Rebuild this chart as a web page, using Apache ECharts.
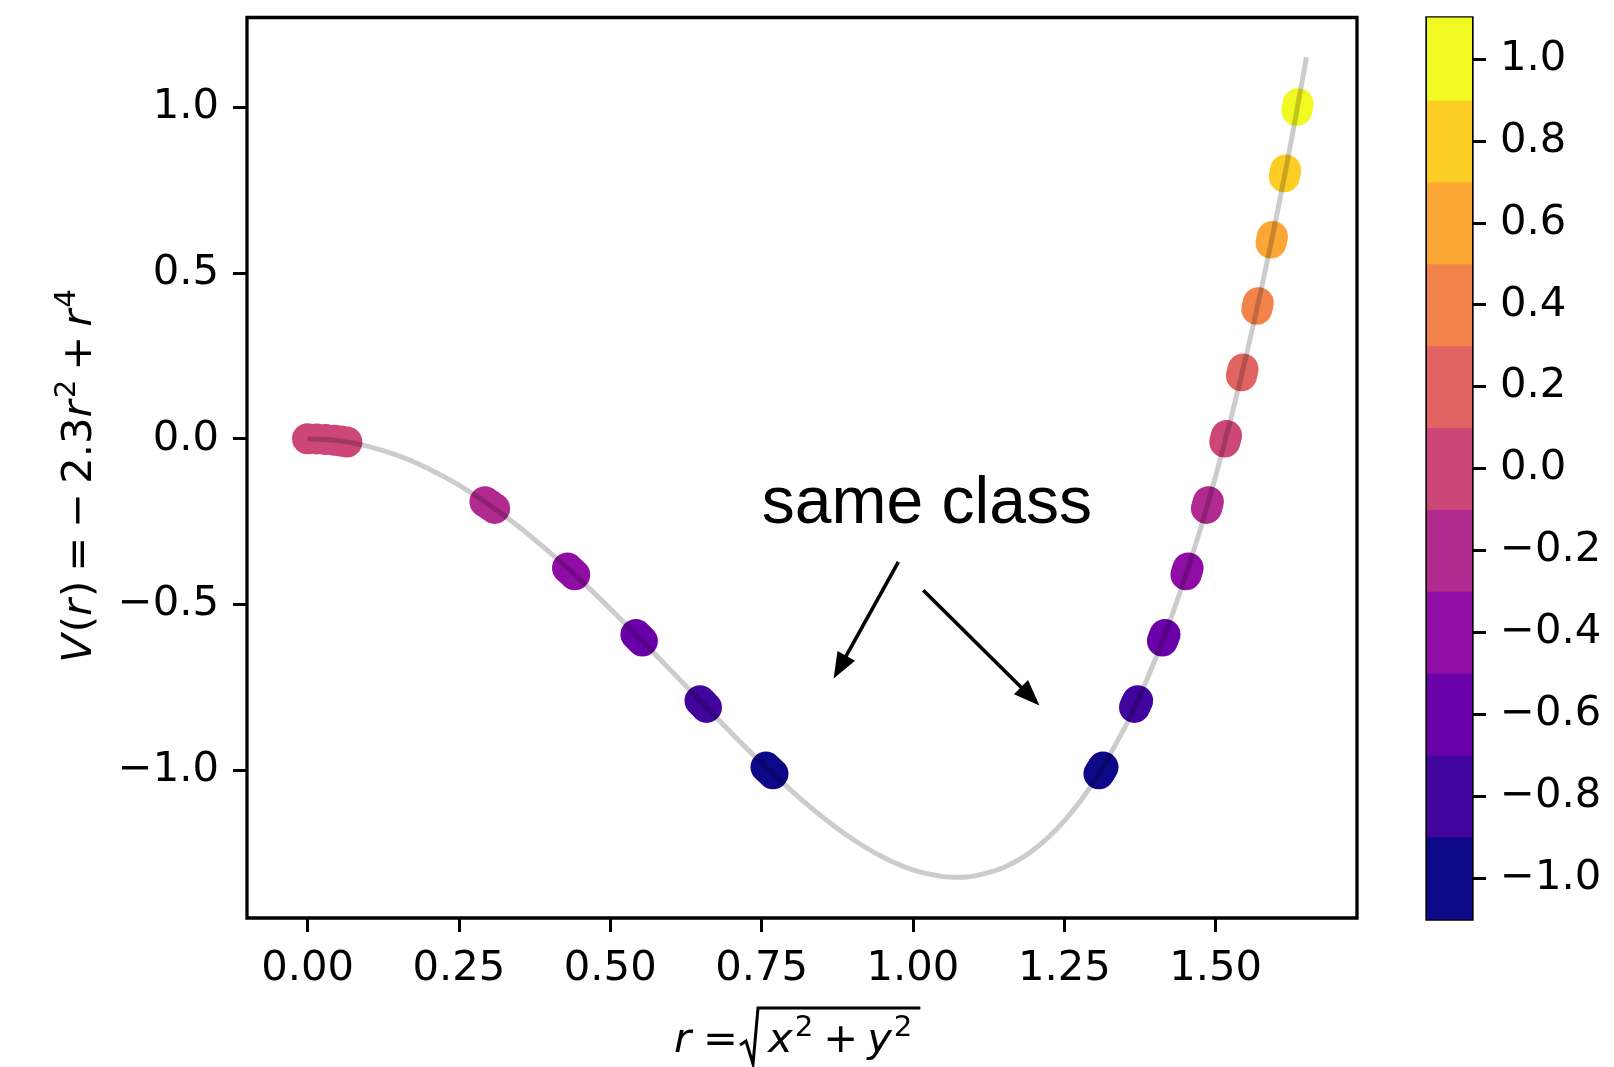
<!DOCTYPE html>
<html>
<head>
<meta charset="utf-8">
<script src="https://cdn.jsdelivr.net/npm/echarts@6/dist/echarts.min.js"></script>
<style>
  html, body { margin: 0; padding: 0; background: #ffffff; }
  #main { width: 1614px; height: 1067px; }
</style>
</head>
<body>
<div id="main"></div>
<script>
// Potential curve V(r) = -2.3 r^2 + r^4, sampled along r
const curveR = [0, 0.05, 0.10, 0.15, 0.20, 0.25, 0.30, 0.35, 0.40, 0.45, 0.50, 0.55, 0.60, 0.65, 0.70, 0.75,
  0.80, 0.85, 0.90, 0.95, 1.00, 1.05, 1.075, 1.10, 1.15, 1.20, 1.25, 1.30, 1.35, 1.375, 1.40, 1.425, 1.45,
  1.475, 1.50, 1.525, 1.55, 1.575, 1.60, 1.625, 1.65];
const curveV = [0, -0.0057, -0.0229, -0.0512, -0.0904, -0.1398, -0.1989, -0.2667, -0.3424, -0.4247, -0.5125,
  -0.6042, -0.6984, -0.7932, -0.8869, -0.9773, -1.0624, -1.1397, -1.2069, -1.2612, -1.3000, -1.3202, -1.3225,
  -1.3189, -1.2927, -1.2384, -1.1523, -1.0309, -0.8702, -0.7740, -0.6664, -0.5470, -0.4152, -0.2706, -0.1125,
  0.0596, 0.2463, 0.4481, 0.6656, 0.8995, 1.1503];

// Labelled samples: radius, potential and the class they belong to
const pointR = [
  0, 0.015, 0.03, 0.045, 0.055, 0.065,
  0.293, 0.301, 0.309,
  0.4294, 0.4354, 0.4413,
  0.5424, 0.5477, 0.5531,
  0.6483, 0.6536, 0.6589,
  0.7572, 0.7630, 0.7688,
  1.3073, 1.3107, 1.3140,
  1.3660, 1.3685, 1.3711,
  1.4121, 1.4142, 1.4163,
  1.4510, 1.4527, 1.4545,
  1.4848, 1.4864, 1.4880,
  1.5151, 1.5166, 1.5180,
  1.5427, 1.5440, 1.5453,
  1.5680, 1.5692, 1.5704,
  1.5915, 1.5927, 1.5938,
  1.6135, 1.6146, 1.6156,
  1.6342, 1.6352, 1.6362
];
const pointV = [
  0, -0.0005, -0.0021, -0.0047, -0.0070, -0.0097,
  -0.19, -0.20, -0.21,
  -0.39, -0.40, -0.41,
  -0.59, -0.60, -0.61,
  -0.79, -0.80, -0.81,
  -0.99, -1.00, -1.01,
  -1.01, -1.00, -0.99,
  -0.81, -0.80, -0.79,
  -0.61, -0.60, -0.59,
  -0.41, -0.40, -0.39,
  -0.21, -0.20, -0.19,
  -0.01, 0.00, 0.01,
  0.19, 0.20, 0.21,
  0.39, 0.40, 0.41,
  0.59, 0.60, 0.61,
  0.79, 0.80, 0.81,
  0.99, 1.00, 1.01
];
const pointClass = [
  0, 0, 0, 0, 0, 0,
  -0.2, -0.2, -0.2,
  -0.4, -0.4, -0.4,
  -0.6, -0.6, -0.6,
  -0.8, -0.8, -0.8,
  -1.0, -1.0, -1.0,
  -1.0, -1.0, -1.0,
  -0.8, -0.8, -0.8,
  -0.6, -0.6, -0.6,
  -0.4, -0.4, -0.4,
  -0.2, -0.2, -0.2,
  0, 0, 0,
  0.2, 0.2, 0.2,
  0.4, 0.4, 0.4,
  0.6, 0.6, 0.6,
  0.8, 0.8, 0.8,
  1.0, 1.0, 1.0
];

// Discrete plasma colour classes and colorbar ticks
const classLevels = [-1.0, -0.8, -0.6, -0.4, -0.2, 0.0, 0.2, 0.4, 0.6, 0.8, 1.0];
const classColors = ['#0d0887', '#41049d', '#6a00a8', '#8f0da4', '#b12a90', '#cc4778',
  '#e16462', '#f2844b', '#fca636', '#fcce25', '#f0f921'];
const xTicks = [0, 0.25, 0.5, 0.75, 1.0, 1.25, 1.5];
const yTicks = [-1.0, -0.5, 0.0, 0.5, 1.0];

// Annotation anchor points (data coordinates)
const noteText = [1.023, -0.2];
const arrowLeft = [[0.976, -0.371], [0.869, -0.723]];
const arrowRight = [[1.017, -0.457], [1.209, -0.804]];

const TICK_FONT = 'DejaVu Sans';
const TICK_SIZE = 41.7;
const SUP_SIZE = 29.2;

function classColor(c) {
  const i = Math.round((c - classLevels[0]) / 0.2);
  return classColors[Math.max(0, Math.min(classColors.length - 1, i))];
}
function fmt(v, d) {
  const s = Math.abs(v).toFixed(d);
  return (v < -1e-9 ? '\u2212' : '') + s;
}

const chart = echarts.init(document.getElementById('main'), null, { renderer: 'canvas' });

const tickStyle = { show: true, inside: false, length: 14, lineStyle: { color: '#000', width: 3 } };
const labelBase = { fontFamily: TICK_FONT, fontSize: TICK_SIZE, color: '#000' };
const hiddenLine = { show: false, onZero: false };

chart.setOption({
  animation: false,
  backgroundColor: '#ffffff',
  grid: [
    { left: 247, top: 17.5, width: 1110, height: 900.5, show: true, borderColor: '#000', borderWidth: 3.3, backgroundColor: 'transparent' },
    { left: 1427, top: 18, width: 45, height: 901, show: true, borderColor: '#000', borderWidth: 3.3, backgroundColor: 'transparent' }
  ],
  xAxis: [
    {
      type: 'value', gridIndex: 0, min: -0.1, max: 1.7335,
      axisLine: hiddenLine, splitLine: { show: false },
      axisTick: Object.assign({ customValues: xTicks }, tickStyle),
      axisLabel: Object.assign({ customValues: xTicks, margin: 30, formatter: v => fmt(v, 2) }, labelBase)
    },
    { type: 'value', gridIndex: 1, min: 0, max: 1, show: false }
  ],
  yAxis: [
    {
      type: 'value', gridIndex: 0, min: -1.445, max: 1.27,
      axisLine: hiddenLine, splitLine: { show: false },
      axisTick: Object.assign({ customValues: yTicks }, tickStyle),
      axisLabel: Object.assign({ customValues: yTicks, margin: 28, padding: [8, 0, 0, 0], formatter: v => fmt(v, 1) }, labelBase)
    },
    {
      type: 'value', gridIndex: 1, min: -1.1, max: 1.1, position: 'right',
      axisLine: hiddenLine, splitLine: { show: false },
      axisTick: Object.assign({ customValues: classLevels }, tickStyle),
      axisLabel: Object.assign({ customValues: classLevels, margin: 28, padding: [20, 0, 0, 0], formatter: v => fmt(v, 1) }, labelBase)
    }
  ],
  series: [
    {
      type: 'scatter', xAxisIndex: 0, yAxisIndex: 0, z: 2,
      symbol: 'circle', symbolSize: 31,
      data: pointR.map((r, i) => [r, pointV[i], pointClass[i]]),
      itemStyle: { color: p => classColor(p.value[2]), opacity: 1 },
      emphasis: { disabled: true }
    },
    {
      type: 'line', xAxisIndex: 0, yAxisIndex: 0, z: 3,
      data: curveR.map((r, i) => [r, curveV[i]]),
      showSymbol: false, smooth: 0.3,
      lineStyle: { color: 'rgba(0,0,0,0.2)', width: 5 },
      emphasis: { disabled: true }
    },
    {
      type: 'custom', xAxisIndex: 1, yAxisIndex: 1, z: 1,
      data: classLevels.map(c => [0.5, c]),
      renderItem: function (params, api) {
        const c = api.value(1);
        const p0 = api.coord([0, c - 0.1]);
        const p1 = api.coord([1, c + 0.1]);
        return {
          type: 'rect',
          shape: { x: p0[0], y: p1[1] - 0.5, width: p1[0] - p0[0], height: p0[1] - p1[1] + 1 },
          style: { fill: classColor(c) }
        };
      }
    }
  ]
});

// ---- math-style axis titles laid out run by run ----
// run kinds: 'n' upright, 'i' italic, 's' superscript, 'g' horizontal gap in px
const measureCtx = document.createElement('canvas').getContext('2d');
function runFont(kind) {
  const size = kind === 's' ? SUP_SIZE : TICK_SIZE;
  return (kind === 'i' ? 'italic ' : '') + size + 'px "' + TICK_FONT + '"';
}
function runAdvance(run) {
  if (run[1] === 'g') return run[2];
  measureCtx.font = runFont(run[1]);
  return measureCtx.measureText(run[0]).width + (run[1] === 'i' ? 2 : 0);
}
function layoutRuns(runs, x0) {
  let x = x0;
  const out = [];
  runs.forEach(run => {
    const kind = run[1];
    if (kind !== 'g') {
      out.push({
        type: 'text', x: x, y: kind === 's' ? -13 : 0,
        style: {
          text: run[0], fill: '#000', fontFamily: TICK_FONT,
          fontSize: kind === 's' ? SUP_SIZE : TICK_SIZE,
          fontStyle: kind === 'i' ? 'italic' : 'normal',
          align: 'left', verticalAlign: 'middle'
        }
      });
    }
    x += runAdvance(run);
  });
  return { elements: out, end: x };
}
function totalWidth(runs) {
  return runs.reduce((s, r) => s + runAdvance(r), 0);
}

const yTitleRuns = [['V', 'i'], ['(', 'n'], ['r', 'i'], [')', 'n'], ['', 'g', 9], ['=', 'n'], ['', 'g', 9],
  ['\u2212', 'n'], ['', 'g', 9], ['2.3', 'n'], ['r', 'i'], ['2', 's'], ['', 'g', 9], ['+', 'n'], ['', 'g', 9],
  ['r', 'i'], ['4', 's']];
const xTitleLeft = [['r', 'i'], ['', 'g', 10], ['=', 'n']];
const xTitleRight = [['x', 'i'], ['2', 's'], ['', 'g', 10], ['+', 'n'], ['', 'g', 9], ['y', 'i'], ['2', 's']];

const yW = totalWidth(yTitleRuns);
const yTitle = layoutRuns(yTitleRuns, -yW / 2);
const xLeftW = totalWidth(xTitleLeft);
const xLeft = layoutRuns(xTitleLeft, 738 - xLeftW);
const xRight = layoutRuns(xTitleRight, 768);

function px(pt) { return chart.convertToPixel({ gridIndex: 0 }, pt); }
function arrow(pair) {
  const a = px(pair[0]), b = px(pair[1]);
  const dx = b[0] - a[0], dy = b[1] - a[1];
  const len = Math.sqrt(dx * dx + dy * dy);
  const ux = dx / len, uy = dy / len;
  const headLen = 26, headW = 20;
  const bx = b[0] - ux * headLen, by = b[1] - uy * headLen;
  return [
    { type: 'line', shape: { x1: a[0], y1: a[1], x2: bx + ux * 3, y2: by + uy * 3 }, style: { stroke: '#000', lineWidth: 3.6 }, z: 10 },
    { type: 'polygon', shape: { points: [[b[0], b[1]], [bx - uy * headW / 2, by + ux * headW / 2], [bx + uy * headW / 2, by - ux * headW / 2]] }, style: { fill: '#000' }, z: 10 }
  ];
}
const tp = px(noteText);
const graphics = [
  {
    type: 'text', x: tp[0], y: tp[1], z: 10,
    style: { text: 'same class', fontFamily: 'Liberation Sans', fontSize: 66, fill: '#000', align: 'center', verticalAlign: 'middle' }
  },
  { type: 'group', x: 80, y: 476, rotation: Math.PI / 2, z: 10, children: yTitle.elements },
  { type: 'group', x: 0, y: 1041, z: 10, children: xLeft.elements.concat(xRight.elements) },
  {
    type: 'polyline', z: 10,
    shape: { points: [[740, 1045], [746, 1041], [753, 1064], [758, 1008], [xRight.end + 8, 1008]] },
    style: { stroke: '#000', lineWidth: 3, fill: null, lineJoin: 'miter' }
  }
].concat(arrow(arrowLeft), arrow(arrowRight));

chart.setOption({ graphic: graphics });
</script>
</body>
</html>
